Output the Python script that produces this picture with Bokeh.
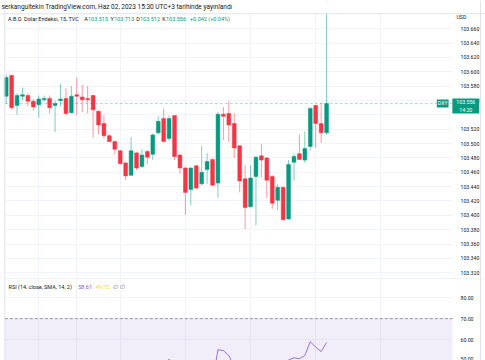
from bokeh.plotting import figure
from bokeh.models import (Range1d, FixedTicker, PrintfTickFormatter, Span, Label,
                          BoxAnnotation, ColumnDataSource)
from bokeh.layouts import column
from bokeh.embed import file_html
from bokeh.resources import INLINE

# ---------------- data (15-min DXY candles) ----------------
opens = [103.566, 103.595, 103.553, 103.566, 103.567, 103.559, 103.554, 103.561, 103.563, 103.553,
         103.560, 103.563, 103.543, 103.568, 103.565, 103.563, 103.567, 103.545, 103.528, 103.511,
         103.503, 103.490, 103.473, 103.456, 103.487, 103.468, 103.489, 103.485, 103.515, 103.535,
         103.507, 103.539, 103.484, 103.466, 103.436, 103.469, 103.444, 103.464, 103.478, 103.445,
         103.541, 103.542, 103.528, 103.497, 103.451, 103.412, 103.454, 103.483, 103.480, 103.454,
         103.421, 103.439, 103.395, 103.474, 103.486, 103.477, 103.496, 103.553, 103.528, 103.515]
highs = [103.596, 103.596, 103.570, 103.578, 103.570, 103.562, 103.567, 103.567, 103.567, 103.560,
         103.583, 103.577, 103.580, 103.592, 103.582, 103.580, 103.568, 103.546, 103.539, 103.513,
         103.503, 103.491, 103.474, 103.509, 103.488, 103.492, 103.491, 103.514, 103.538, 103.549,
         103.539, 103.539, 103.486, 103.468, 103.467, 103.470, 103.497, 103.487, 103.479, 103.544,
         103.551, 103.559, 103.542, 103.497, 103.470, 103.470, 103.483, 103.499, 103.481, 103.456,
         103.444, 103.440, 103.477, 103.486, 103.513, 103.517, 103.551, 103.554, 103.557, 103.713]
lows = [103.555, 103.547, 103.540, 103.560, 103.552, 103.546, 103.536, 103.559, 103.542, 103.516,
        103.552, 103.539, 103.542, 103.540, 103.544, 103.542, 103.508, 103.513, 103.507, 103.502,
        103.485, 103.471, 103.449, 103.455, 103.463, 103.466, 103.471, 103.477, 103.513, 103.502,
        103.504, 103.477, 103.458, 103.401, 103.414, 103.436, 103.442, 103.444, 103.441, 103.424,
        103.505, 103.502, 103.480, 103.432, 103.381, 103.411, 103.386, 103.453, 103.424, 103.409,
        103.407, 103.393, 103.394, 103.448, 103.477, 103.473, 103.490, 103.494, 103.501, 103.512]
closes = [103.592, 103.550, 103.567, 103.568, 103.559, 103.551, 103.562, 103.563, 103.550, 103.556,
          103.562, 103.542, 103.566, 103.566, 103.561, 103.561, 103.547, 103.526, 103.511, 103.503,
          103.492, 103.472, 103.455, 103.490, 103.466, 103.484, 103.481, 103.512, 103.531, 103.503,
          103.535, 103.482, 103.466, 103.432, 103.466, 103.438, 103.460, 103.475, 103.442, 103.541,
          103.538, 103.526, 103.494, 103.448, 103.411, 103.452, 103.481, 103.477, 103.449, 103.417,
          103.439, 103.394, 103.471, 103.482, 103.478, 103.493, 103.549, 103.528, 103.515, 103.556]

# RSI(14) values, bars 30..60 (only the part above 50 is visible)
rsi_start = 29
rsi_values = [46.0, 50.6, 43.0, 41.0, 37.0, 42.0, 38.0, 41.0, 44.0, 40.0,
              55.1, 54.7, 52.3, 47.0, 41.0, 37.0, 42.0, 45.5, 45.0, 41.0,
              38.0, 40.5, 36.5, 50.2, 51.2, 50.8, 52.3, 59.0, 56.3, 54.2, 58.6]

price_ticks = [103.32, 103.34, 103.36, 103.38, 103.40, 103.42, 103.44, 103.46, 103.48,
               103.50, 103.52, 103.56, 103.58, 103.60, 103.62, 103.64, 103.66]
price_grid = [103.32, 103.34, 103.36, 103.38, 103.40, 103.42, 103.44, 103.46, 103.48,
              103.50, 103.52, 103.54, 103.56, 103.58, 103.60, 103.62, 103.64, 103.66]
rsi_ticks = [50, 60, 70, 80]
time_grid_idx = [6, 13, 21, 33, 45, 57, 69]

last_close = 103.556
header_title = "serkangultekin TradingView.com, Haz 02, 2023 15:30 UTC+3 tarihinde yayınlandı"
symbol_text = "A.B.D. Dolar Endeksi, 15, TVC"
ohlc_letters = ["A", "Y", "D", "K"]
ohlc_values = ["103.515", "103.713", "103.512", "103.556"]
change_text = "+0.042 (+0.04%)"
rsi_title = "RSI (14, close, SMA, 14, 2)"
rsi_last = "58.61"
rsi_sma_last = "49.75"
last_tag = "103.556\n14:20"

# ---------------- styling / geometry ----------------
UP = "#089981"
DOWN = "#F23645"
GRID = "#f0f3fa"
BORDER = "#e0e3eb"
TXT = "#131722"
FONT = "Roboto"
FS = "5.5px"
AXFS = "5.2px"
W = 485
H1, H2 = 278, 82
X0, X1 = -1.050, 88.27        # frame spans the whole canvas width
LEFT_X = -0.258               # left border of the widget
SCALE_X = 82.19               # where the price scale starts
EDGE_X = 87.35                # right border of the widget
PANE_TOP = 103.6813           # top border of the price pane

idx = list(range(len(opens)))
up_i = [i for i in idx if closes[i] >= opens[i]]
dn_i = [i for i in idx if closes[i] < opens[i]]


def src(ids):
    return ColumnDataSource(dict(
        x=ids,
        l=[lows[i] for i in ids], h=[highs[i] for i in ids],
        top=[max(opens[i], closes[i]) for i in ids],
        bot=[min(opens[i], closes[i]) for i in ids]))


def lab(plot, x, y, text, color=TXT, size=FS, **kw):
    kw.setdefault("x_units", "screen")
    kw.setdefault("y_units", "screen")
    kw.setdefault("text_baseline", "middle")
    plot.add_layout(Label(x=x, y=y, text=text, text_font=FONT, text_font_size=size,
                          text_color=color, **kw))


def style_axis(a):
    a.fixed_location = SCALE_X
    a.axis_line_color = None
    a.major_tick_line_color = None
    a.minor_tick_line_color = None
    a.major_label_standoff = 2
    a.major_label_text_font = FONT
    a.major_label_text_font_size = AXFS
    a.major_label_text_color = TXT


def base_fig(height, y_range, ticks, grid_ticks, fmt):
    p = figure(width=W, height=height, output_backend="svg", toolbar_location=None,
               x_range=x_range, y_range=y_range, y_axis_location="right", title=None,
               min_border_left=0, min_border_right=0, min_border_top=0, min_border_bottom=0)
    p.xaxis.visible = False
    p.outline_line_color = None
    p.border_fill_color = "white"
    p.xgrid.ticker = FixedTicker(ticks=time_grid_idx)
    p.ygrid.ticker = FixedTicker(ticks=grid_ticks)
    for g in (p.xgrid, p.ygrid):
        g.grid_line_color = GRID
        g.grid_line_width = 1
    # price-scale area and the strip left of the widget stay white
    p.add_layout(BoxAnnotation(left=SCALE_X, fill_color="white", fill_alpha=1,
                               line_color=None, level="underlay"))
    p.add_layout(BoxAnnotation(right=LEFT_X, fill_color="white", fill_alpha=1,
                               line_color=None, level="underlay"))
    a = p.yaxis[0]
    a.ticker = FixedTicker(ticks=ticks)
    a.formatter = PrintfTickFormatter(format=fmt)
    style_axis(a)
    return p


x_range = Range1d(X0, X1)

# ---------------- price pane ----------------
p1 = base_fig(H1, Range1d(103.312, 103.6994), price_ticks, price_grid, "%.3f")

for col, ids in ((UP, up_i), (DOWN, dn_i)):
    s = src(ids)
    p1.segment(x0="x", y0="l", x1="x", y1="h", source=s, line_color=col, line_alpha=0.5, line_width=1)
    p1.vbar(x="x", width=0.7, top="top", bottom="bot", source=s,
            fill_color=col, line_color=col, line_width=0.5)

# last-price line across the pane
p1.segment(x0=[LEFT_X], x1=[SCALE_X], y0=[last_close], y1=[last_close], line_color=UP,
           line_alpha=0.35, line_width=1, line_dash="3 2")

# header strip above the pane (hides the part of the last wick above the pane)
p1.add_layout(BoxAnnotation(bottom=PANE_TOP, fill_color="white", fill_alpha=1, line_color=None))
p1.add_layout(Span(location=PANE_TOP - 0.0004, dimension="width", line_color=BORDER, line_width=1))
p1.add_layout(Span(location=LEFT_X, dimension="height", line_color=BORDER, line_width=1))
p1.add_layout(Span(location=EDGE_X, dimension="height", line_color=BORDER, line_width=1))

# header and legend line
lab(p1, 1, 272, header_title, size="6.5px")
lab(p1, 7.5, 259.3, symbol_text)
value_x = [87.5, 113.5, 139.5, 165.5]
for vx, let, val in zip(value_x, ohlc_letters, ohlc_values):
    lab(p1, vx - 0.2, 259.3, let, text_align="right")
    lab(p1, vx, 259.3, val, color=UP)
lab(p1, 189.5, 259.3, change_text, color=UP)
lab(p1, 456, 261.3, "USD", size=AXFS)

# last price tags
lab(p1, 442.2, last_close, "DXY", color="white", y_units="data", text_align="center",
    size=AXFS, background_fill_color=UP, padding=1)
lab(p1, 465.3, 172.5, last_tag, color="white", text_align="center", size=AXFS,
    text_line_height=1.2, background_fill_color=UP, padding=dict(left=4, right=4, top=1, bottom=1))

# ---------------- RSI pane ----------------
p2 = base_fig(H2, Range1d(49.93, 89.26), rsi_ticks, rsi_ticks, "%.2f")
p2.add_layout(BoxAnnotation(left=LEFT_X, right=SCALE_X, bottom=30, top=70, fill_color="#7E57C2",
                            fill_alpha=0.1, line_color=None))
p2.segment(x0=[LEFT_X], x1=[SCALE_X], y0=[70], y1=[70], line_color="#9598A1", line_width=1,
           line_dash="3 2")
p2.add_layout(Span(location=89.22, dimension="width", line_color=BORDER, line_width=1))
p2.add_layout(Span(location=LEFT_X, dimension="height", line_color=BORDER, line_width=1))
p2.add_layout(Span(location=EDGE_X, dimension="height", line_color=BORDER, line_width=1))

rsi_x = list(range(rsi_start, rsi_start + len(rsi_values)))
p2.line(rsi_x, rsi_values, line_color="#7E57C2", line_alpha=0.8, line_width=1)

lab(p2, 8, 74, rsi_title)
lab(p2, 77.7, 74, rsi_last, color="#7E57C2")
lab(p2, 95, 74, rsi_sma_last, color="#FDD835")
for ix in (112.5, 119.5):
    lab(p2, ix, 74, "\u2205", color="#787B86")

layout = column(p1, p2, spacing=0)
open("out.html", "w").write(file_html(layout, INLINE))
